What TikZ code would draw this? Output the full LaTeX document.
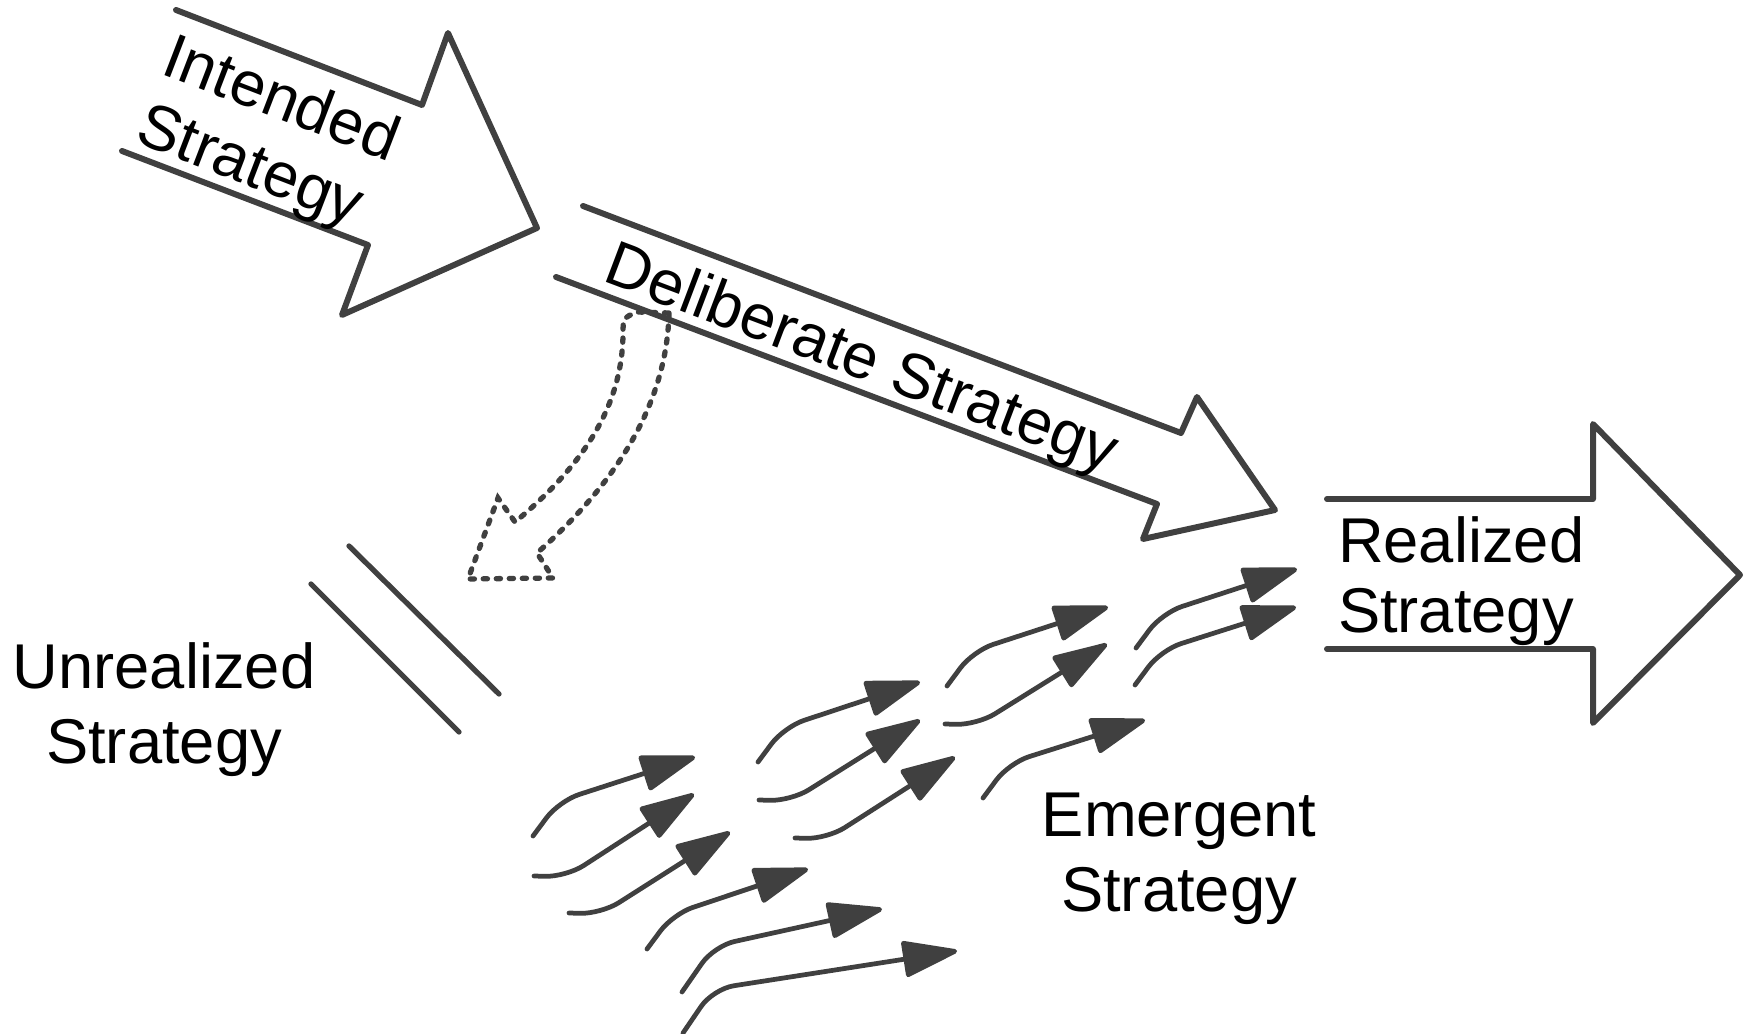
\documentclass[tikz,border=0pt]{standalone}
\usepackage{fontspec}
\setmainfont{Liberation Sans}
\usetikzlibrary{arrows.meta}
\definecolor{ink}{HTML}{404040}
\begin{document}
\begin{tikzpicture}[x=0.01cm,y=-0.01cm,
  bigarrow/.style={draw=ink,line width=1.7pt,line join=round,line cap=round},
  emarrow/.style={draw=ink,line width=1.35pt,line cap=round,rounded corners=6pt,-{Triangle[length=17pt,width=10.5pt,round]}},
  dotarrow/.style={draw=ink,line width=1.5pt,line cap=round,dash pattern=on 1.2pt off 2.5pt},
  strokeline/.style={draw=ink,line width=1.5pt,line cap=round},
  lbl/.style={inner sep=0pt,outer sep=0pt,text=black}
]
\useasboundingbox (0,0) rectangle (1745,1034);

% ---------- Intended Strategy arrow ----------
\coordinate (I1) at (176,10);
\coordinate (I2) at (422,105);
\coordinate (I3) at (448,33);
\coordinate (I4) at (537,228);
\coordinate (I5) at (342,315);
\coordinate (I6) at (368,245);
\coordinate (I7) at (122,151);
\draw[bigarrow] (I1) -- (I2) -- (I3) -- (I4) -- (I5) -- (I6) -- (I7);
\node[lbl,anchor=north west,rotate=-21,align=left,font=\fontsize{18pt}{20.8pt}\selectfont]
  (intended) at (176,30.7) {Intended\\Strategy};

% ---------- dotted unrealized arrow ----------
\coordinate (dA) at (669,313);
\coordinate (dB) at (537,553);
\coordinate (dC) at (553,578);
\coordinate (dD) at (468,579);
\coordinate (dE) at (498,498);
\coordinate (dF) at (515,522);
\coordinate (dG) at (623,335);
\coordinate (dH) at (637,312);
\draw[dotarrow] (dA) .. controls (667,400) and (620,480) .. (dB) -- (dC) -- (dD) -- (dE) -- (dF)
  .. controls (590,460) and (622,400) .. (dG) .. controls (623,318) .. (dH) -- cycle;

% ---------- Deliberate Strategy arrow ----------
\coordinate (D1) at (583,206);
\coordinate (D2) at (1181,433);
\coordinate (D3) at (1197,397);
\coordinate (D4) at (1275,510);
\coordinate (D5) at (1143,539);
\coordinate (D6) at (1157,504);
\coordinate (D7) at (556,277);
\draw[bigarrow] (D1) -- (D2) -- (D3) -- (D4) -- (D5) -- (D6) -- (D7);
\node[lbl,anchor=base west,rotate=-20.7,font=\fontsize{18pt}{21pt}\selectfont]
  (deliberate) at (601,281) {Deliberate Strategy};

% ---------- Realized Strategy arrow ----------
\coordinate (R1) at (1327,499);
\coordinate (R2) at (1593,499);
\coordinate (R3) at (1593,424);
\coordinate (R4) at (1740,575);
\coordinate (R5) at (1593,723);
\coordinate (R6) at (1593,649);
\coordinate (R7) at (1327,649);
\draw[bigarrow] (R1) -- (R2) -- (R3) -- (R4) -- (R5) -- (R6) -- (R7);
\node[lbl,anchor=north west,align=left,font=\fontsize{18pt}{19.9pt}\selectfont]
  (realized) at (1338,516.7) {Realized\\Strategy};

% ---------- Unrealized Strategy ----------
\coordinate (U1a) at (349,546);
\coordinate (U1b) at (499,694);
\coordinate (U2a) at (311,584);
\coordinate (U2b) at (459,732);
\draw[strokeline] (U1a) -- (U1b);
\draw[strokeline] (U2a) -- (U2b);
\node[lbl,anchor=north,align=center,font=\fontsize{18pt}{21.3pt}\selectfont]
  (unrealized) at (164,642.7) {Unrealized\\Strategy};

% ---------- Emergent Strategy arrows ----------
\foreach \n/\sx/\sy/\cx/\cy/\tx/\ty in {
  a1/533/836/559/801/695/757,
  a4/647/949/673/914/808/869,
  b1/758/762/784/727/920/682,
  b4/947/686/973/651/1108/607,
  b6/983/798/1009/763/1145/720,
  c1/1136/648/1162/613/1297/569,
  c2/1135/685/1161/650/1296/607,
  a5/682/992/714/946/882/909,
  a6/683/1033/713/989/957/951,
  a2/534/876/566/877/694/794,
  a3/569/913/601/914/730/832,
  b2/759/800/791/801/920/720,
  b3/795/838/827/839/955/757,
  b5/945/724/977/725/1107/644}{
  \coordinate (\n s) at (\sx,\sy);
  \coordinate (\n c) at (\cx,\cy);
  \coordinate (\n t) at (\tx,\ty);
  \draw[emarrow] (\n s) -- (\n c) -- (\n t);
}
\node[lbl,anchor=north,align=center,font=\fontsize{18pt}{21.3pt}\selectfont]
  (emergent) at (1179,792.7) {Emergent\\Strategy};
\end{tikzpicture}
\end{document}
